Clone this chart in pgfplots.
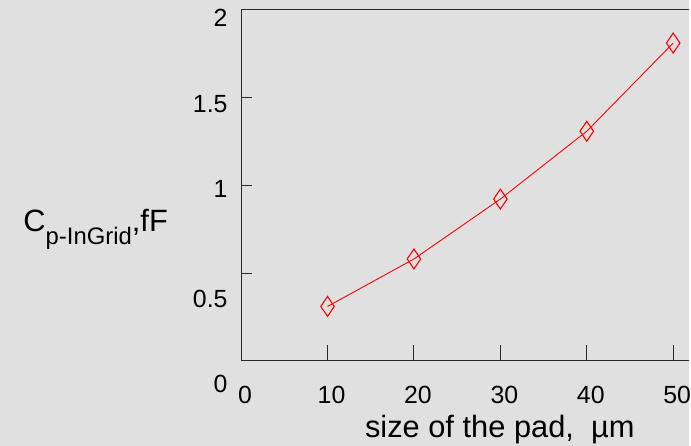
\documentclass[border=0pt]{standalone}
\usepackage{fontspec}
\setmainfont{Liberation Sans}
\usepackage{pgfplots}
\pgfplotsset{compat=1.18}
\definecolor{bg}{RGB}{224,224,224}
\definecolor{axc}{RGB}{40,40,40}
\begin{document}
\begin{tikzpicture}
\fill[bg] (0,0) rectangle (691bp,447bp);
\begin{axis}[
  at={(241.7bp,85.3bp)}, anchor=south west,
  scale only axis, width=449.3bp, height=352.2bp,
  xmin=0, xmax=51.88, ymin=0, ymax=2,
  axis x line*=box, axis y line*=left,
  /pgf/number format/assume math mode=true,
  axis line style={axc, line width=1.2bp},
  tick style={axc, line width=1bp},
  tick align=inside,
  xtick pos=bottom, ytick pos=left,
  major tick length=11bp,
  xtick={0,10,20,30,40,50},
  xticklabels={0,10,20,30,40,50},
  extra x ticks={10,20,30,40,50},
  extra x tick labels={},
  extra x tick style={major tick length=16bp},
  ytick={0,0.5,1,1.5,2},
  yticklabels={\raisebox{-31.8bp}{0},\raisebox{-34.3bp}{0.5},\raisebox{-12.6bp}{1},\raisebox{-15.6bp}{1.5},\raisebox{-17.2bp}{2}},
  xticklabel style={font=\fontsize{25}{25}\selectfont, anchor=base, inner sep=0pt, yshift=-42.3bp, xshift=4bp},
  yticklabel style={font=\fontsize{25}{25}\selectfont, anchor=base east, inner sep=0pt, xshift=-13.5bp},
  xlabel={size of the pad,\ \ µm},
  ylabel={C\raisebox{-13.3bp}{\fontsize{24}{24}\selectfont p-InGrid},fF},
  every axis x label/.style={at={(axis description cs:0.577,0)}, anchor=base, yshift=-76.6bp, inner sep=0pt, font=\fontsize{31}{31}\selectfont},
  every axis y label/.style={at={(axis description cs:-0.4861,0.369)}, anchor=base west, inner sep=0pt, font=\fontsize{31}{31}\selectfont},
]
\addplot[red, line width=0.9bp, mark=diamond, mark size=10bp, mark options={xscale=0.9, line width=1.1bp, fill=none}]
coordinates {(10,0.310) (20,0.580) (30,0.921) (40,1.307) (50,1.809)};
\end{axis}
\end{tikzpicture}
\end{document}
